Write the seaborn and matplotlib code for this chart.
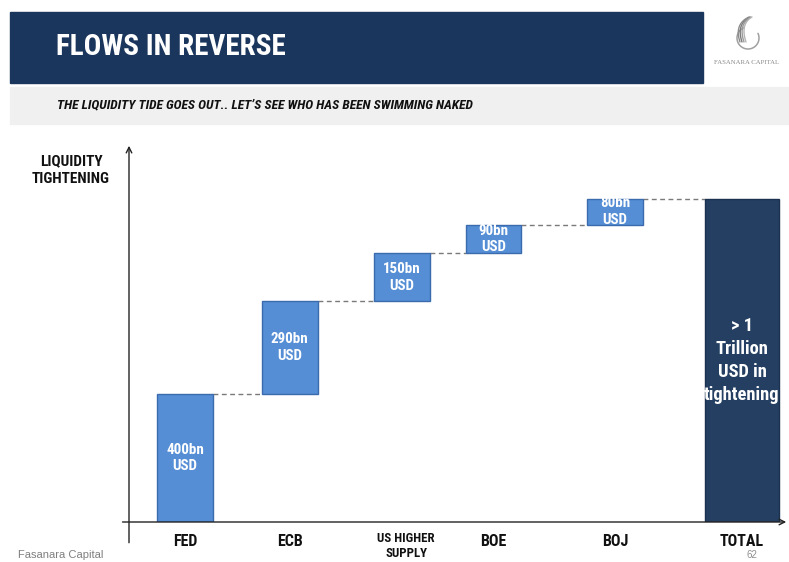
import matplotlib
matplotlib.use("Agg")
import matplotlib.pyplot as plt
import matplotlib.transforms as mtransforms
from matplotlib.patches import Rectangle
import numpy as np
import seaborn as sns

sns.set_theme(style="white")
FONT = ["Liberation Sans Narrow", "DejaVu Sans Condensed", "Roboto Condensed", "Liberation Sans", "DejaVu Sans"]
plt.rcParams["font.family"] = FONT

# ---- data ----
categories = ["FED", "ECB", "US HIGHER\nSUPPLY", "BOE", "BOJ"]
values_bn = [400, 290, 150, 90, 80]
bar_labels = ["400bn\nUSD", "290bn\nUSD", "150bn\nUSD", "90bn\nUSD", "80bn\nUSD"]
total_category = "TOTAL"
total_label = "> 1\nTrillion\nUSD in\ntightening"

# ---- layout ----
slots = [0.0, 0.94, 1.95, 2.77, 3.86]
total_slot = 5.0
W, H = 789, 562
step_w = 0.50
total_w = 0.67

step_color = "#558ED5"
step_edge = "#3B6BAE"
total_color = "#243F62"
navy = "#1B365D"

fig = plt.figure(figsize=(W / 100, H / 100), dpi=100)
fig.patch.set_facecolor("white")

# overlay in pixel coords (y down)
ov = fig.add_axes([0, 0, 1, 1])
ov.set_xlim(0, W)
ov.set_ylim(H, 0)
ov.axis("off")
ov.add_patch(Rectangle((10, 12), 693, 71, color=navy, zorder=1))
ov.add_patch(Rectangle((10, 87), 779, 37, color="#F0F0F0", zorder=1))
ov.text(56, 47, "FLOWS IN REVERSE", color="white", fontsize=21, fontweight="bold",
        ha="left", va="center", zorder=2)
ov.text(57, 105, "THE LIQUIDITY TIDE GOES OUT.. LET\u2019S SEE WHO HAS BEEN SWIMMING NAKED",
        color="#111111", fontsize=9.7, fontweight="bold", style="italic",
        ha="left", va="center", zorder=2)

# logo (decorative swirl)
cx, cy, r = 748, 38, 11
t = np.radians(np.linspace(110, 385, 80))
ov.plot(cx + r * np.cos(t), cy - r * np.sin(t), color="#A0A0A0", lw=1.1, zorder=2)
for dx, col in [(0, "#7A7A7A"), (2, "#9A9A9A"), (4, "#B5B5B5"), (-2, "#8C8C8C")]:
    u = np.linspace(0, 1, 30)
    p0, p1, p2 = np.array([750 + dx * 0.5, 17]), np.array([736 + dx, 24]), np.array([742 + dx, 42])
    pts = ((1 - u) ** 2)[:, None] * p0 + (2 * u * (1 - u))[:, None] * p1 + (u ** 2)[:, None] * p2
    ov.plot(pts[:, 0], pts[:, 1], color=col, lw=1.0, zorder=2)
ov.text(747, 63, "FASANARA CAPITAL", color="#8A8A8A", fontsize=4.9,
        family=["Liberation Serif", "DejaVu Serif"], ha="center", va="center", zorder=2)

ov.text(71, 170, "LIQUIDITY\nTIGHTENING", color="#111111", fontsize=11, fontweight="bold",
        ha="center", va="center", linespacing=1.3)
ov.text(18, 555, "Fasanara Capital", color="#7F7F7F", fontsize=8, family=["Liberation Sans", "DejaVu Sans"],
        ha="left", va="center")
ov.text(752, 555, "62", color="#8F8F8F", fontsize=7, family=["Liberation Sans", "DejaVu Sans"],
        ha="center", va="center")

# data axes
left_px, right_px, top_px, base_px = 129, 789, 143, 522
ax = fig.add_axes([left_px / W, (H - base_px) / H, (right_px - left_px) / W, (base_px - top_px) / H])
ax.patch.set_alpha(0)
for s in ax.spines.values():
    s.set_visible(False)

total_val = sum(values_bn)
ymax = total_val * (base_px - top_px) / (base_px - 199)
ax.set_ylim(0, ymax)
px_per_slot = 111.4
ax.set_xlim((left_px - 185) / px_per_slot, (right_px - 185) / px_per_slot)

tops = np.cumsum(values_bn)
bases = tops - np.array(values_bn)
ax.bar(slots, values_bn, bottom=bases, width=step_w, color=step_color,
       edgecolor=step_edge, linewidth=1.0, zorder=3)
ax.bar([total_slot], [total_val], width=total_w, color=total_color,
       edgecolor="#1A3250", linewidth=1.0, zorder=3)

# connectors
xs_all = slots + [total_slot]
ws_all = [step_w] * len(slots) + [total_w]
for i in range(len(slots)):
    x0 = xs_all[i] + ws_all[i] / 2
    x1 = xs_all[i + 1] - ws_all[i + 1] / 2
    ax.plot([x0, x1], [tops[i], tops[i]], ls=(0, (3.5, 2.5)), color="#7A7A7A", lw=1.0, zorder=2)

for x, b, v, lab in zip(slots, bases, values_bn, bar_labels):
    ax.text(x, b + v / 2, lab, color="white", fontsize=10.8, fontweight="bold",
            ha="center", va="center", linespacing=1.25, zorder=4)
ax.text(total_slot, total_val * 0.5, total_label, color="white", fontsize=13.3, fontweight="bold",
        ha="center", va="center", linespacing=1.38, zorder=4)

ax.set_xticks(slots + [total_slot])
ax.set_xticklabels(categories + [total_category])
ax.tick_params(axis="x", length=0, pad=9)
for t_, c in zip(ax.get_xticklabels(), categories + [total_category]):
    t_.set_fontweight("bold")
    t_.set_color("#111111")
    t_.set_verticalalignment("top")
    if "\n" in c:
        t_.set_fontsize(9.3)
        t_.set_linespacing(1.25)
        t_.set_transform(t_.get_transform() + mtransforms.ScaledTranslation(0.04, 0.03, fig.dpi_scale_trans))
    else:
        t_.set_fontsize(11.5)
ax.set_yticks([])

# axis arrows
ax.annotate("", xy=(0, 1), xycoords="axes fraction", xytext=(0, -0.062),
            textcoords="axes fraction",
            arrowprops=dict(arrowstyle="->", color="#222222", lw=1.0, mutation_scale=10),
            annotation_clip=False)
ax.annotate("", xy=(1.0, 0), xycoords="axes fraction", xytext=(-0.014, 0),
            textcoords="axes fraction",
            arrowprops=dict(arrowstyle="->", color="#222222", lw=1.0, mutation_scale=10),
            annotation_clip=False)

fig.savefig("out.png", dpi=100, facecolor="white")
